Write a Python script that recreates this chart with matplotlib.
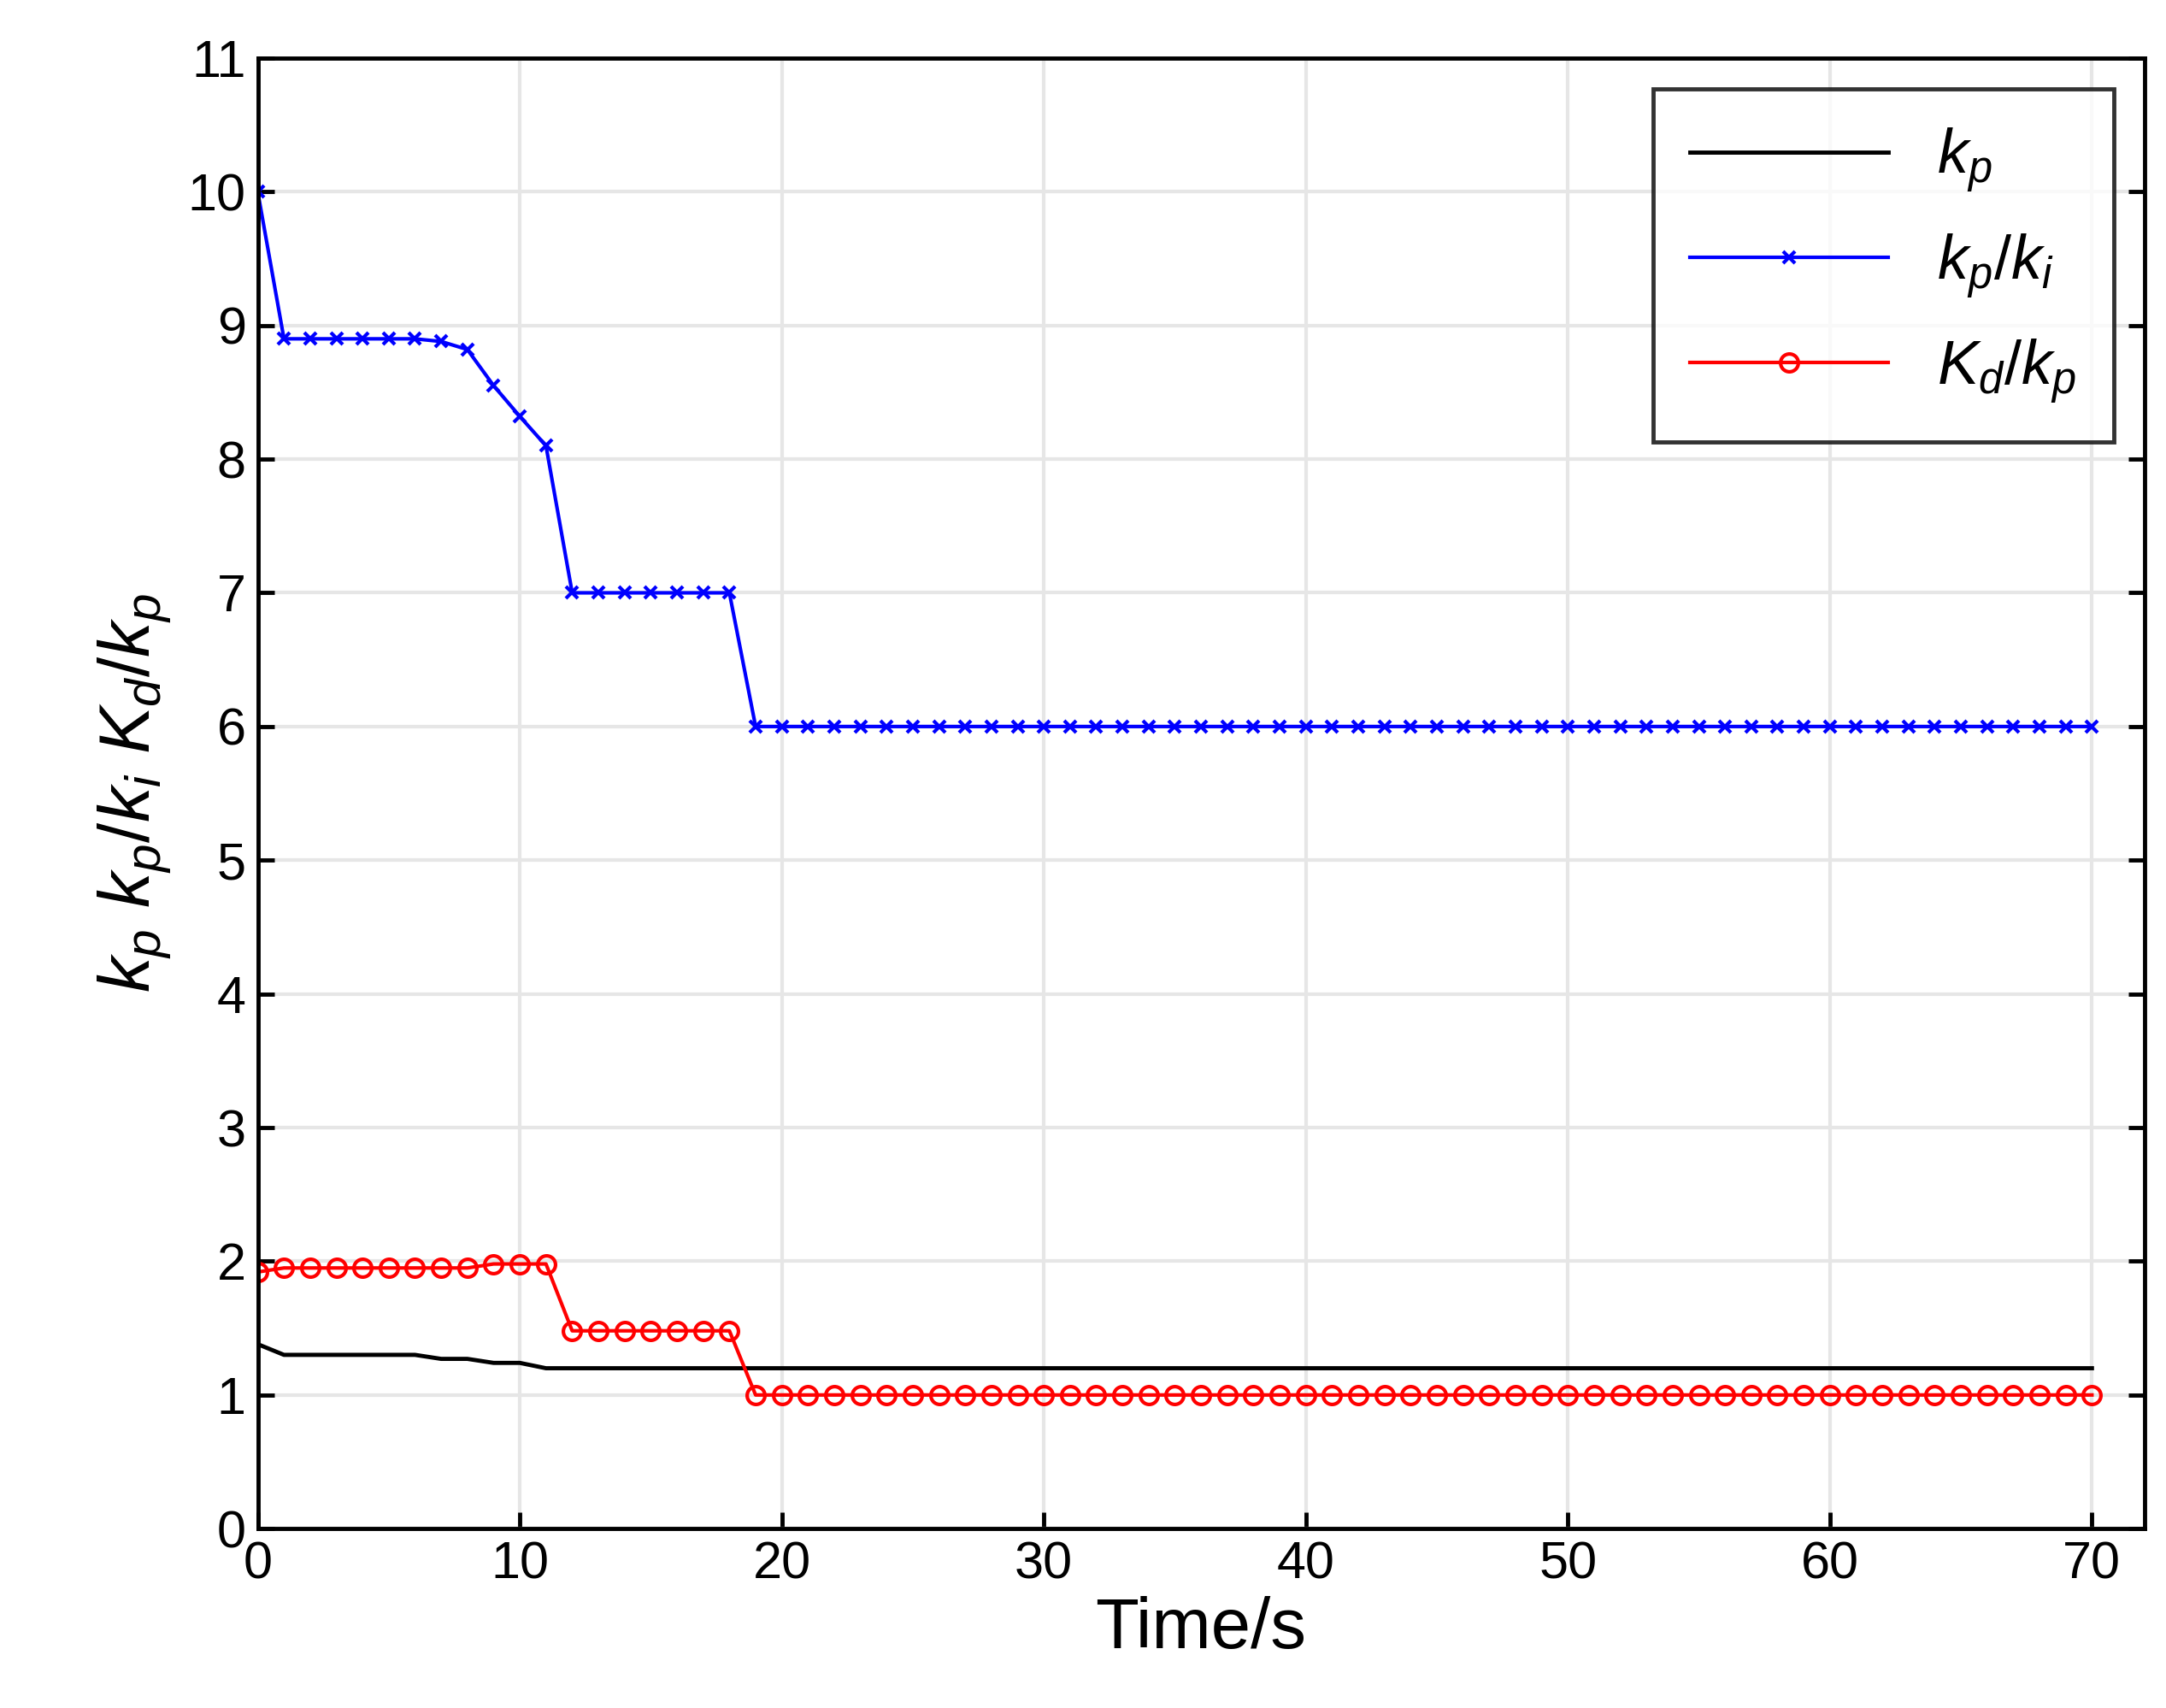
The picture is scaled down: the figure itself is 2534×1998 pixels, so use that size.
import matplotlib.pyplot as plt
import numpy as np

plt.rcParams['font.family'] = ['Liberation Sans', 'DejaVu Sans']
plt.rcParams['mathtext.fontset'] = 'custom'
plt.rcParams['mathtext.it'] = 'Liberation Sans:italic'
plt.rcParams['mathtext.rm'] = 'Liberation Sans'

t = np.arange(0, 71)
kp = [1.38] + [1.3] * 6 + [1.27] * 2 + [1.24] * 2 + [1.2] * 60
kp_ki = [10.0] + [8.9] * 6 + [8.88, 8.82, 8.55, 8.32, 8.1] + [7.0] * 7 + [6.0] * 52
kd_kp = [1.92] + [1.95] * 8 + [1.98] * 3 + [1.48] * 7 + [1.0] * 52

fig = plt.figure(figsize=(25.34, 19.98), dpi=100)
ax = fig.add_axes([0.119, 0.105, 0.871, 0.861])

ax.plot(t, kp, color='black', lw=3.5, label='$k_p$')
ax.plot(t, kp_ki, color='blue', lw=3, marker='x', ms=10, mew=3, label='$k_p/k_i$')
ax.plot(t, kd_kp, color='red', lw=3, marker='o', ms=15, mfc='none', mew=3, label='$K_d/k_p$')

ax.set_xlim(0, 72)
ax.set_ylim(0, 11)
ax.set_xticks(range(0, 71, 10))
ax.set_yticks(range(0, 12))
ax.grid(True, color='#e6e6e6', lw=3)
ax.tick_params(direction='in', length=14, width=3.5, labelsize=44, right=True, top=False, pad=10)
for s in ax.spines.values():
    s.set_linewidth(3.5)

ax.set_xlabel('Time/s', fontsize=60, labelpad=6)
ax.set_ylabel('$k_p\\ k_p/k_i\\ K_d/k_p$', fontsize=60, labelpad=12)

leg = ax.legend(loc='upper right', fontsize=52, frameon=True, fancybox=False,
                edgecolor='black', handlelength=3.2, borderpad=0.6, labelspacing=0.6)
leg.get_frame().set_linewidth(3.5)

fig.savefig('out.png', dpi=100)
